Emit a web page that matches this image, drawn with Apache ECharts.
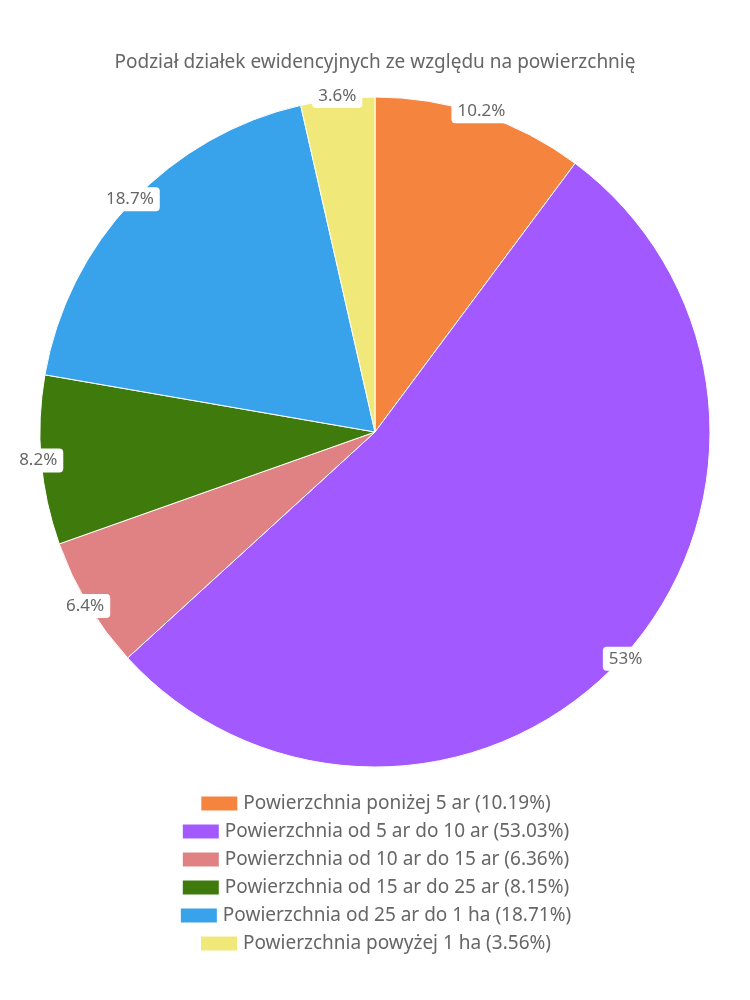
<!DOCTYPE html>
<html>
<head>
<meta charset="utf-8">
<script src="https://cdn.jsdelivr.net/npm/echarts@6/dist/echarts.min.js"></script>
<style>html,body{margin:0;padding:0;background:#fff}#c{width:750px;height:1000px}</style>
</head>
<body>
<div id="c"></div>
<script>
const titleText = 'Podział działek ewidencyjnych ze względu na powierzchnię';
const categories = [
  'Powierzchnia poniżej 5 ar',
  'Powierzchnia od 5 ar do 10 ar',
  'Powierzchnia od 10 ar do 15 ar',
  'Powierzchnia od 15 ar do 25 ar',
  'Powierzchnia od 25 ar do 1 ha',
  'Powierzchnia powyżej 1 ha'
];
const values = [10.19, 53.03, 6.36, 8.15, 18.71, 3.56];
const colors = ['#F5843F', '#A259FF', '#E08283', '#3F7A0C', '#38A3EB', '#F0E97A'];

const FONT = 'Noto Sans';
const data = categories.map((n, i) => ({ name: n, value: values[i], itemStyle: { color: colors[i] } }));
const legendCenters = [800, 828, 856, 884, 912, 940];

const chart = echarts.init(document.getElementById('c'));
chart.setOption({
  animation: false,
  textStyle: { fontFamily: FONT },
  title: {
    text: titleText, left: 'center', top: 48,
    textStyle: { fontFamily: FONT, fontSize: 19, fontWeight: 'normal', color: '#666' }
  },
  legend: categories.map((n, i) => ({
    data: [n], left: 'center', top: legendCenters[i] - 11, orient: 'horizontal',
    itemWidth: 38, itemHeight: 16, itemGap: 10, icon: 'rect', selectedMode: false,
    formatter: name => name + ' (' + values[categories.indexOf(name)].toFixed(2) + '%)',
    textStyle: { fontFamily: FONT, fontSize: 19, color: '#666' }
  })),
  series: [
    {
      type: 'pie', center: [375, 432], radius: [0, 335], startAngle: 90, clockwise: true,
      data: data,
      itemStyle: { borderColor: '#fff', borderWidth: 1 },
      label: { show: false }, labelLine: { show: false }, emphasis: { disabled: true }
    },
    {
      type: 'pie', center: [375, 432], radius: [295, 375], startAngle: 90, clockwise: true,
      silent: true, legendHoverLink: false, z: 5,
      data: categories.map((n, i) => ({ name: n, value: values[i], itemStyle: { color: 'rgba(0,0,0,0)' } })),
      itemStyle: { borderWidth: 0 },
      label: {
        show: true, position: 'inside',
        formatter: p => Number(p.value.toFixed(1)) + '%',
        backgroundColor: '#fff', borderRadius: 4, padding: [4, 6, 3, 6],
        fontFamily: FONT, fontSize: 17, color: '#666'
      },
      labelLine: { show: false }, emphasis: { disabled: true }
    }
  ]
});
</script>
</body>
</html>
